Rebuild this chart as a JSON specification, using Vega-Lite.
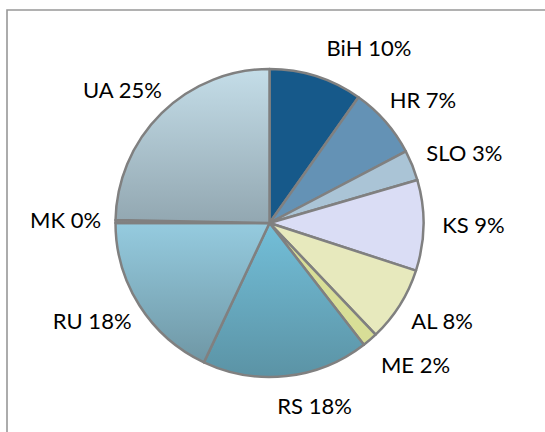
{
  "$schema": "https://vega.github.io/schema/vega-lite/v6.json",
  "width": 548,
  "height": 444,
  "padding": {"left": 7, "top": 10, "right": 0, "bottom": 0},
  "background": "white",
  "view": {"stroke": "#989898", "strokeWidth": 1.6},
  "data": {
    "values": [
      {"name": "BiH", "label": "BiH 10%", "value": 9.8, "order": 1},
      {"name": "HR", "label": "HR 7%", "value": 7.5, "order": 2},
      {"name": "SLO", "label": "SLO 3%", "value": 3.2, "order": 3},
      {"name": "KS", "label": "KS 9%", "value": 9.5, "order": 4},
      {"name": "AL", "label": "AL 8%", "value": 7.9, "order": 5},
      {"name": "ME", "label": "ME 2%", "value": 1.6, "order": 6},
      {"name": "RS", "label": "RS 18%", "value": 17.5, "order": 7},
      {"name": "RU", "label": "RU 18%", "value": 18.0, "order": 8},
      {"name": "MK", "label": "MK 0%", "value": 0.3, "order": 9},
      {"name": "UA", "label": "UA 25%", "value": 24.7, "order": 10}
    ]
  },
  "transform": [
    {"stack": "value", "groupby": [], "sort": [{"field": "order", "order": "ascending"}], "as": ["v0", "v1"]},
    {"calculate": "(datum.v0 + datum.v1) / 200 * 2 * PI", "as": "ang"},
    {"calculate": "sin(datum.ang) * (174 + length(datum.label) * 6)", "as": "lx"},
    {"calculate": "cos(datum.ang) * 185", "as": "ly"}
  ],
  "resolve": {"scale": {"x": "shared", "y": "shared"}},
  "layer": [
    {
      "mark": {"type": "arc", "outerRadius": 154, "stroke": "#808080", "strokeWidth": 2.5, "strokeJoin": "round"},
      "encoding": {
        "x": {"datum": 0, "type": "quantitative", "scale": {"domain": [-262.5, 285.5], "nice": false, "zero": false}, "axis": null},
        "y": {"datum": 0, "type": "quantitative", "scale": {"domain": [-231, 213], "nice": false, "zero": false}, "axis": null},
        "theta": {"field": "v0", "type": "quantitative", "stack": null, "scale": {"domain": [0, 100]}},
        "theta2": {"field": "v1"},
        "fill": {
          "field": "name",
          "type": "nominal",
          "legend": null,
          "scale": {
            "domain": ["BiH", "HR", "SLO", "KS", "AL", "ME", "RS", "RU", "MK", "UA"],
            "range": ["#16598A", "#6492B5", "#AAC4D6", "#DADDF5", "#E7E9BD", "#D8DE97", "#69ABC2", "#86B6C6", "#8C8C8C", "#ABC2CD"]
          },
          "condition": [
            {"test": "datum.name === 'UA'", "value": {"gradient": "linear", "x1": 0, "y1": 0, "x2": 0, "y2": 1, "stops": [{"offset": 0, "color": "#C4DDE8"}, {"offset": 1, "color": "#92A7B1"}]}},
            {"test": "datum.name === 'RU'", "value": {"gradient": "linear", "x1": 0, "y1": 0, "x2": 0, "y2": 1, "stops": [{"offset": 0, "color": "#95CBDF"}, {"offset": 1, "color": "#6F97A5"}]}},
            {"test": "datum.name === 'RS'", "value": {"gradient": "linear", "x1": 0, "y1": 0, "x2": 0, "y2": 1, "stops": [{"offset": 0, "color": "#73BFD9"}, {"offset": 1, "color": "#5B93A5"}]}}
          ]
        }
      }
    },
    {
      "transform": [{"filter": "datum.name !== 'BiH' && datum.name !== 'RS' && datum.name !== 'ME'"}],
      "mark": {"type": "text", "font": "Lato", "fontSize": 22, "color": "#000000"},
      "encoding": {
        "x": {"field": "lx", "type": "quantitative"},
        "y": {"field": "ly", "type": "quantitative"},
        "text": {"field": "label"}
      }
    },
    {
      "transform": [{"filter": "datum.name === 'BiH'"}],
      "mark": {"type": "text", "dx": 34, "dy": 2, "font": "Lato", "fontSize": 22, "color": "#000000"},
      "encoding": {
        "x": {"field": "lx", "type": "quantitative"},
        "y": {"field": "ly", "type": "quantitative"},
        "text": {"field": "label"}
      }
    },
    {
      "transform": [{"filter": "datum.name === 'RS'"}],
      "mark": {"type": "text", "dx": 22, "font": "Lato", "fontSize": 22, "color": "#000000"},
      "encoding": {
        "x": {"field": "lx", "type": "quantitative"},
        "y": {"field": "ly", "type": "quantitative"},
        "text": {"field": "label"}
      }
    },
    {
      "transform": [{"filter": "datum.name === 'ME'"}],
      "mark": {"type": "text", "dx": 13, "dy": 3, "font": "Lato", "fontSize": 22, "color": "#000000"},
      "encoding": {
        "x": {"field": "lx", "type": "quantitative"},
        "y": {"field": "ly", "type": "quantitative"},
        "text": {"field": "label"}
      }
    }
  ]
}
